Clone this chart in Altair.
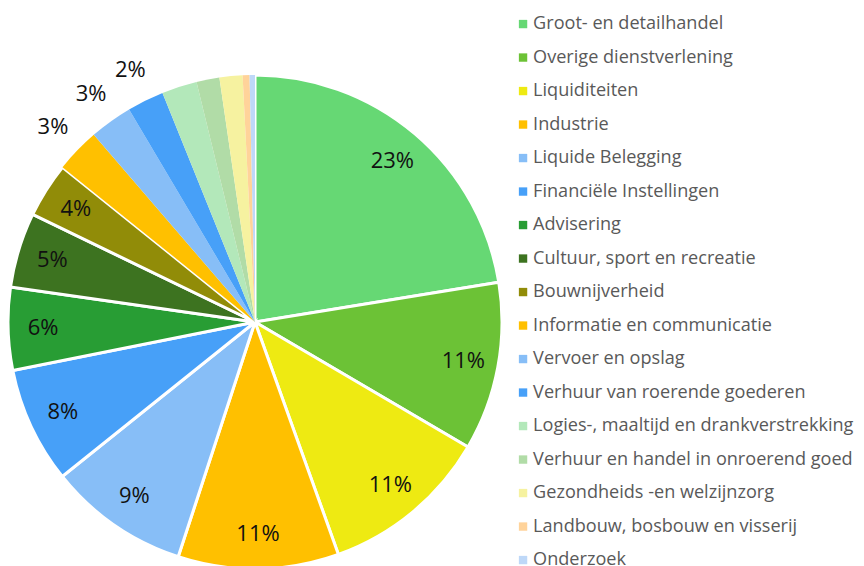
import altair as alt
import pandas as pd

categories = [
    "Groot- en detailhandel", "Overige dienstverlening", "Liquiditeiten", "Industrie",
    "Liquide Belegging", "Financiële Instellingen", "Advisering",
    "Cultuur, sport en recreatie", "Bouwnijverheid", "Informatie en communicatie",
    "Vervoer en opslag", "Verhuur van roerende goederen",
    "Logies-, maaltijd en drankverstrekking", "Verhuur en handel in onroerend goed",
    "Gezondheids -en welzijnzorg", "Landbouw, bosbouw en visserij", "Onderzoek",
]
values = [22.4, 11.0, 11.05, 10.5, 9.2, 7.6, 5.4, 4.9, 3.6, 2.9, 2.8, 2.4, 2.3, 1.5, 1.5, 0.45, 0.35]
labels = ["23%", "11%", "11%", "11%", "9%", "8%", "6%", "5%", "4%", "3%", "3%", "2%",
          "", "", "", "", ""]
colors = ["#66D874", "#6CC236", "#EEEA12", "#FFC000", "#87BEF7", "#47A0F8", "#289D34",
          "#3D7320", "#918C08", "#FFC000", "#87BEF7", "#47A0F8", "#B3E8BA", "#B1DCA7",
          "#F6F2A0", "#FFD39A", "#BED8F8"]

df = pd.DataFrame({"cat": categories, "val": values, "lab": labels,
                   "idx": list(range(len(categories)))})
total = float(sum(values))

FONT = "Open Sans"
CX, CY = 247, 314
theta_scale = alt.Scale(domain=[0, total])

stacked = alt.Chart(df).transform_stack(
    stack="val", groupby=[], as_=["v0", "v1"], sort=[alt.SortField("idx", order="ascending")]
).transform_calculate(mid="(datum.v0 + datum.v1) / 2")

arcs = stacked.mark_arc(outerRadius=247, stroke="white").encode(
    x=alt.value(CX), y=alt.value(CY),
    theta=alt.Theta("v0:Q", scale=theta_scale),
    theta2="v1:Q",
    color=alt.Color(
        "cat:N",
        scale=alt.Scale(domain=categories, range=colors),
        sort=categories,
        legend=alt.Legend(
            title=None, orient="none", legendX=506, legendY=7, padding=0,
            symbolType="square", symbolSize=70, symbolStrokeWidth=0,
            labelFont=FONT, labelFontSize=18.1, labelColor="#595959",
            rowPadding=14.5, labelOffset=1, labelLimit=400,
        ),
    ),
    strokeWidth=alt.condition("datum.idx < 9", alt.value(3), alt.value(0)),
)

inner = stacked.transform_filter("datum.idx < 9").mark_text(
    radius=212, font=FONT, fontSize=22, color="#111111"
).encode(x=alt.value(CX), y=alt.value(CY),
         theta=alt.Theta("mid:Q", scale=theta_scale), text="lab:N")

outer = stacked.transform_filter("datum.idx >= 9").mark_text(
    radius=281, font=FONT, fontSize=22, color="#111111"
).encode(x=alt.value(CX), y=alt.value(CY),
         theta=alt.Theta("mid:Q", scale=theta_scale), text="lab:N")

chart = alt.layer(arcs, inner, outer).properties(
    width=848, height=558, padding=0,
    autosize=alt.AutoSizeParams(type="none"),
).configure_view(stroke=None)

chart.save("out.html", embed_options={"renderer": "svg", "actions": False})
